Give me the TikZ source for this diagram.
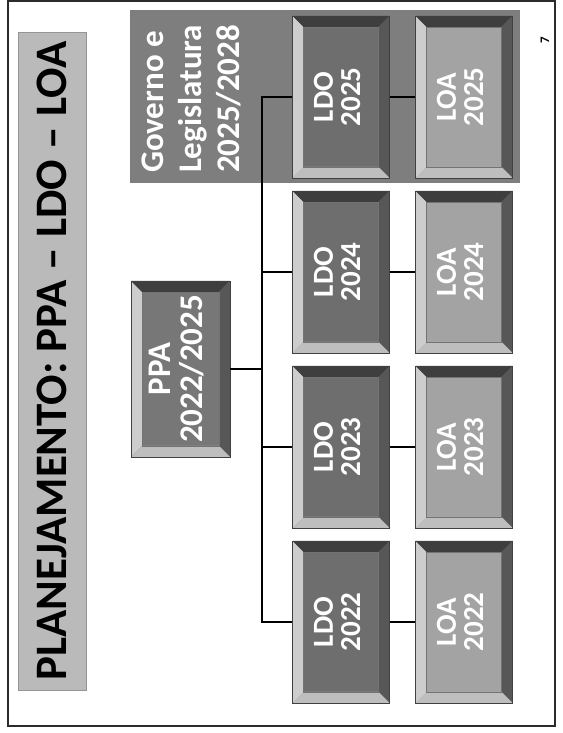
\documentclass[tikz,border=0pt]{standalone}
\usepackage{fontspec}
\setmainfont{Carlito}
\usepackage{tikz}
\usetikzlibrary{positioning}
\definecolor{framegray}{HTML}{2B2B2B}
\definecolor{titlegray}{HTML}{BABABA}
\definecolor{govgray}{HTML}{7E7E7E}
\definecolor{ldogray}{HTML}{6E6E6E}
\definecolor{loagray}{HTML}{A3A3A3}
\definecolor{ppagray}{HTML}{777777}
\definecolor{bevellight}{HTML}{CDCDCD}
\definecolor{bevelpale}{HTML}{BEBEBE}
\definecolor{beveldark}{HTML}{3E3E3E}
\definecolor{bevelmid}{HTML}{575757}
\newcommand{\bev}{11pt}
\newcommand{\boxtext}[2]{\rotatebox{90}{\begin{tabular}{@{}c@{}}#1\\#2\end{tabular}}}
\tikzset{
  bevelbox/.style={minimum width=97pt,minimum height=162pt,inner sep=0pt,fill=#1,draw=black!75,text=white,
    font=\bfseries\fontsize{29}{27}\selectfont,
    path picture={
      \coordinate (pa) at (path picture bounding box.south west);
      \coordinate (pb) at (path picture bounding box.north east);
      \fill[bevellight] (pa) -- (pa |- pb) -- ([shift={(\bev,-\bev)}]pa |- pb) -- ([shift={(\bev,\bev)}]pa) -- cycle;
      \fill[beveldark] (pa |- pb) -- (pb) -- ([shift={(-\bev,-\bev)}]pb) -- ([shift={(\bev,-\bev)}]pa |- pb) -- cycle;
      \fill[bevelmid] (pb) -- (pb |- pa) -- ([shift={(-\bev,\bev)}]pb |- pa) -- ([shift={(-\bev,-\bev)}]pb) -- cycle;
      \fill[bevelpale] (pb |- pa) -- (pa) -- ([shift={(\bev,\bev)}]pa) -- ([shift={(-\bev,\bev)}]pb |- pa) -- cycle;
      \draw[black!55,thin] ([shift={(\bev,\bev)}]pa) rectangle ([shift={(-\bev,-\bev)}]pb);
    }},
  titlebar/.style={rotate=90,minimum width=658pt,minimum height=68pt,inner sep=0pt,fill=titlegray,draw=titlegray!80!black,
    font=\bfseries\fontsize{45}{45}\selectfont,text=black},
  govpanel/.style={minimum width=390pt,minimum height=173pt,inner sep=0pt,fill=govgray},
  govlabel/.style={rotate=90,align=left,inner sep=0pt,text=white,font=\bfseries\fontsize{33}{38}\selectfont},
  tree/.style={draw=black,line width=1.8pt},
}
\begin{document}
\begin{tikzpicture}[x=1pt,y=1pt]
  \useasboundingbox (0,0) rectangle (562,733);
  \draw[framegray,line width=1.2pt] (8,7) rectangle (555,732);
  \node[titlebar] (title) at (52,372) {PLANEJAMENTO: PPA – LDO – LOA};
  \node[govpanel] (gov) at (325,636.5) {};
  \node[govlabel] (govtext) at (191,634) {Governo e\\Legislatura\\2025/2028};
  \node[bevelbox=ppagray,minimum width=99pt,minimum height=176pt,font=\bfseries\fontsize{33}{29}\selectfont] (ppa) at (180.5,364) {\boxtext{PPA}{2022/2025}};
  \node[bevelbox=ldogray] (ldo2025) at (341,636) {\boxtext{LDO}{2025}};
  \node[bevelbox=ldogray] (ldo2024) at (341,461) {\boxtext{LDO}{2024}};
  \node[bevelbox=ldogray] (ldo2023) at (341,286) {\boxtext{LDO}{2023}};
  \node[bevelbox=ldogray] (ldo2022) at (341,111) {\boxtext{LDO}{2022}};
  \node[bevelbox=loagray] (loa2025) at (464,636) {\boxtext{LOA}{2025}};
  \node[bevelbox=loagray] (loa2024) at (464,461) {\boxtext{LOA}{2024}};
  \node[bevelbox=loagray] (loa2023) at (464,286) {\boxtext{LOA}{2023}};
  \node[bevelbox=loagray] (loa2022) at (464,111) {\boxtext{LOA}{2022}};
  \node[rotate=90,font=\bfseries\fontsize{13}{13}\selectfont] (pagenum) at (545,693) {7};
  \coordinate (spine) at (262,0);
  \draw[tree] (ldo2025.west) -| (spine |- ldo2022.west) -- (ldo2022.west);
  \draw[tree] (ldo2024.west) -- (ldo2024.west -| spine); \draw[tree] (ldo2023.west) -- (ldo2023.west -| spine);
  \draw[tree] (ppa.east) -- (ppa.east -| spine);
  \draw[tree] (ldo2025)--(loa2025); \draw[tree] (ldo2024)--(loa2024); \draw[tree] (ldo2023)--(loa2023); \draw[tree] (ldo2022)--(loa2022);
\end{tikzpicture}
\end{document}
